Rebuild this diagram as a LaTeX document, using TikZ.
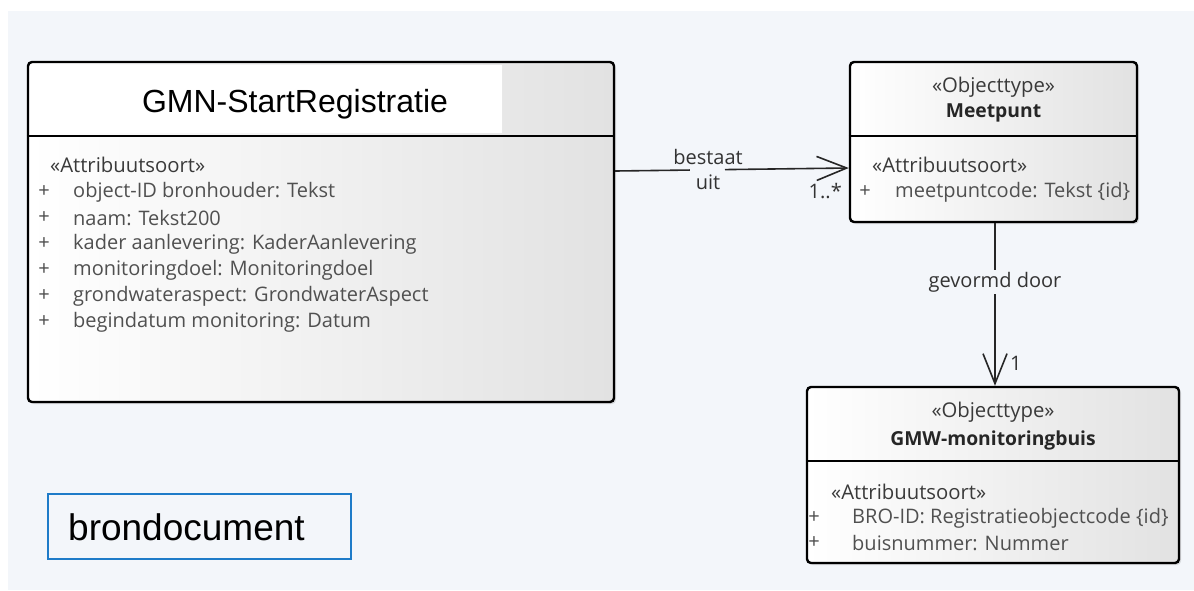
\documentclass[tikz,border=0pt]{standalone}
\usepackage{fontspec}
\setmainfont{Open Sans}
\newfontfamily\titlefont{Liberation Sans}
\usetikzlibrary{arrows.meta,shadows,calc}

\definecolor{panelbg}{HTML}{F3F6FA}
\definecolor{boxgray}{HTML}{E2E2E2}
\definecolor{attrgray}{HTML}{505050}
\definecolor{stereogray}{HTML}{3A3A3A}
\definecolor{noteblue}{HTML}{1E7BC8}

\begin{document}
\begin{tikzpicture}[x=1pt,y=-1pt,
  classbox/.style={draw=black, line width=2.4pt, rounded corners=4pt,
    left color=white, right color=boxgray, inner sep=0pt,
    drop shadow={shadow xshift=2pt, shadow yshift=-2pt, opacity=0.25, fill=gray}},
  sepline/.style={line width=2.4pt, black},
  stereo/.style={font=\fontsize{20.3}{22}\selectfont, text=stereogray, inner sep=0pt},
  clsname/.style={font=\fontsize{19.3}{21}\selectfont\bfseries, text=black!85, inner sep=0pt},
  attr/.style={font=\fontsize{20}{22}\selectfont, text=attrgray, inner sep=0pt, anchor=west},
  plus/.style={font=\fontsize{20}{22}\selectfont, text=black!70, inner sep=0pt},
  lbl/.style={font=\fontsize{20}{22}\selectfont, text=black!80, inner sep=0pt},
  assoc/.style={line width=1.6pt, black!85},
  opentip/.style={-{Straight Barb[length=30pt, width=24pt, line width=1.6pt]}}
]
\useasboundingbox (0,0) rectangle (1194,590);
\fill[white] (0,0) rectangle (1194,590);
\fill[panelbg] (8,11) rectangle (1194,590);

% ---- class GMN-StartRegistratie ----
\node[classbox, minimum width=586pt, minimum height=340pt] (reg) at (321,232) {};
\fill[white] (31,65) rectangle (502,133);
\draw[sepline] (reg.west |- 0,136) -- (reg.east |- 0,136);
\node[font=\titlefont\fontsize{32}{34}\selectfont, inner sep=0pt] (regname) at (295,104) {GMN-StartRegistratie};
\node[stereo, anchor=west] (regst) at (50,165) {«Attribuutsoort»};
\foreach \i/\t in {0/{object-ID bronhouder: Tekst},
                   1/{naam: Tekst200},
                   2/{kader aanlevering: KaderAanlevering},
                   3/{monitoringdoel: Monitoringdoel},
                   4/{grondwateraspect: GrondwaterAspect},
                   5/{begindatum monitoring: Datum}} {
  \node[plus] (regp\i) at (44,192+26*\i) {+};
  \node[attr] (rega\i) at (73,192+26*\i) {\t};
}

% ---- class Meetpunt ----
\node[classbox, minimum width=287pt, minimum height=160pt] (meet) at (993.5,142) {};
\draw[sepline] (meet.west |- 0,136) -- (meet.east |- 0,136);
\node[stereo] (meetst) at (993.5,87) {«Objecttype»};
\node[clsname] (meetname) at (993.5,113) {Meetpunt};
\node[stereo, anchor=west] (meetas) at (872,165) {«Attribuutsoort»};
\node[plus] (meetp0) at (865,192) {+};
\node[attr] (meeta0) at (895,192) {meetpuntcode: Tekst \{id\}};

% ---- class GMW-monitoringbuis ----
\node[classbox, minimum width=372pt, minimum height=176pt] (gmw) at (993,475) {};
\draw[sepline] (gmw.west |- 0,461) -- (gmw.east |- 0,461);
\node[stereo] (gmwst) at (993,412) {«Objecttype»};
\node[clsname] (gmwname) at (993,440) {GMW-monitoringbuis};
\node[stereo, anchor=west] (gmwas) at (831,492) {«Attribuutsoort»};
\node[plus] (gmwp0) at (814,518) {+};
\node[attr] (gmwa0) at (852,518) {BRO-ID: Registratieobjectcode \{id\}};
\node[plus] (gmwp1) at (814,543) {+};
\node[attr] (gmwa1) at (852,543) {buisnummer: Nummer};

% ---- association bestaat uit ----
\coordinate (regport) at (reg.east |- 0,171);
\coordinate (meetport) at (meet.west |- 0,168);
\draw[assoc] (regport) -- ($(regport)!0.32!(meetport)$);
\draw[assoc, opentip] ($(regport)!0.47!(meetport)$) -- (meetport);
\node[lbl] (bestaat) at (708,157) {bestaat};
\node[lbl] (uit) at (708,182) {uit};
\node[lbl, anchor=east] (mult1) at (842,191) {1..*};

% ---- association gevormd door ----
\coordinate (meetbot) at (meet.south -| 995,0);
\coordinate (gmwtop) at (gmw.north -| 995,0);
\draw[assoc, opentip] (meetbot) -- (gmwtop);
\node[lbl, fill=panelbg, inner sep=2pt] (gevormd) at (995,282) {gevormd door};
\node[lbl, anchor=west] (mult2) at (1010,363) {1};

% ---- note ----
\node[draw=noteblue, line width=1.6pt, minimum width=303pt, minimum height=65pt,
      inner sep=0pt] (bron) at (199.5,526.5) {};
\node[font=\titlefont\fontsize{37}{39}\selectfont, inner sep=0pt, anchor=west] (brontxt) at (68,527) {brondocument};
\end{tikzpicture}
\end{document}
